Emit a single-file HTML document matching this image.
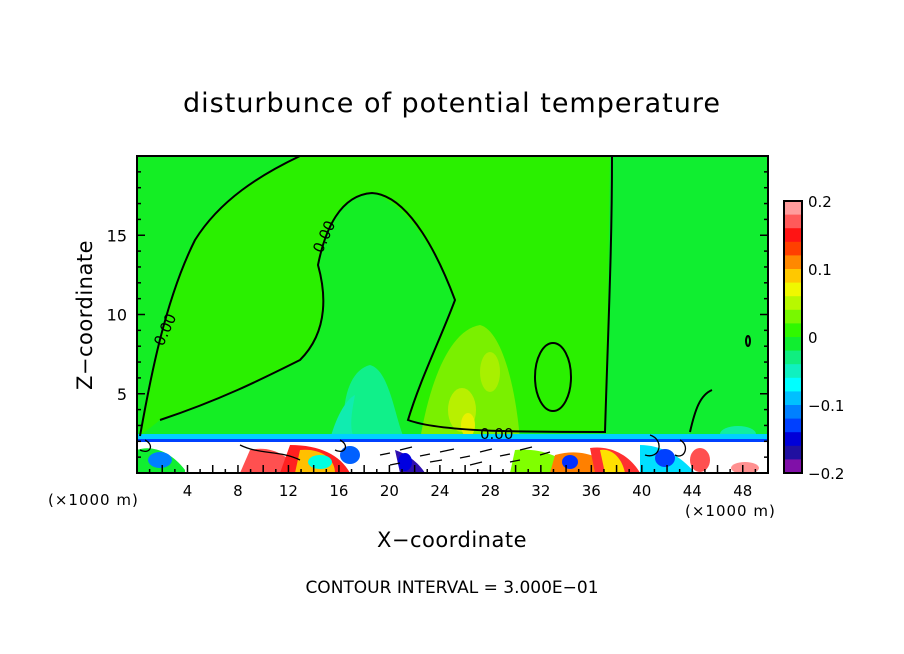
<!DOCTYPE html>
<html><head><meta charset="utf-8"><style>
body{margin:0;background:#fff;}
svg{display:block;font-family:"DejaVu Sans","Liberation Sans",sans-serif;}
</style></head><body>
<svg width="904" height="654" viewBox="0 0 904 654">
<defs><clipPath id="pc"><rect x="137" y="156" width="631" height="317"/></clipPath></defs>
<text x="452" y="112" text-anchor="middle" font-size="27" letter-spacing="1">disturbunce of potential temperature</text>
<g clip-path="url(#pc)">
<rect x="137" y="156" width="631" height="317" fill="#14ee24"/>
<path d="M140,436 C150,380 165,300 195,240 C220,200 260,175 300,156 L612,156 C612,250 608,330 605,432 L500,432 L408,420 C420,380 440,340 455,300 C440,260 410,205 372,193 C340,195 325,230 318,265 C325,290 330,330 300,360 C260,380 220,400 160,420 Z" fill="#2af000"/>
<path d="M610,156 L768,156 L768,440 L606,436 Z" fill="#10ee30"/>
<path d="M345,440 C340,400 350,370 370,365 C390,370 395,420 405,440 Z" fill="#10f08a"/>
<path d="M330,440 C335,420 345,400 355,395 C350,420 350,430 355,440Z" fill="#10ecb0"/>
<path d="M420,440 C430,380 450,330 480,325 C500,330 515,380 520,440 Z" fill="#7af000"/>
<ellipse cx="462" cy="410" rx="14" ry="22" fill="#b8f000"/>
<ellipse cx="490" cy="372" rx="10" ry="20" fill="#a8f000"/>
<ellipse cx="468" cy="425" rx="7" ry="12" fill="#e8f000"/>
<ellipse cx="738" cy="434" rx="18" ry="8" fill="#10eea0"/>
<rect x="137" y="434" width="631" height="6" fill="#00d0ff"/>
<rect x="137" y="439" width="631" height="3" fill="#0040ff"/>
<rect x="137" y="442" width="631" height="31" fill="#ffffff"/>
<path d="M137,450 C150,445 170,450 185,470 L185,473 L137,473Z" fill="#10ee30"/>
<ellipse cx="160" cy="460" rx="12" ry="8" fill="#0080ff"/>
<path d="M250,450 C270,445 290,455 300,473 L240,473Z" fill="#ff5050"/>
<path d="M290,445 C320,445 340,455 350,473 L280,473Z" fill="#ff2020"/>
<path d="M300,450 C320,448 335,458 335,473 L295,473Z" fill="#ffc000"/>
<ellipse cx="320" cy="462" rx="12" ry="7" fill="#00ffe0"/>
<ellipse cx="350" cy="455" rx="10" ry="9" fill="#0060ff"/>
<path d="M395,450 C410,455 420,465 425,473 L400,473Z" fill="#3010b0"/>
<ellipse cx="405" cy="462" rx="7" ry="9" fill="#0000e0"/>
<path d="M515,450 C540,448 560,455 580,473 L510,473Z" fill="#80ff00"/>
<path d="M555,455 C580,448 600,455 620,473 L550,473Z" fill="#ff8000"/>
<ellipse cx="570" cy="462" rx="8" ry="7" fill="#0030ff"/>
<path d="M590,448 C610,445 630,455 640,473 L595,473Z" fill="#ff3030"/>
<path d="M600,450 C612,448 622,458 625,473 L605,473Z" fill="#ffe000"/>
<path d="M640,445 C660,445 680,455 695,473 L640,473Z" fill="#00e0ff"/>
<ellipse cx="665" cy="458" rx="10" ry="9" fill="#0040ff"/>
<ellipse cx="700" cy="460" rx="10" ry="12" fill="#ff5050"/>
<ellipse cx="745" cy="468" rx="14" ry="6" fill="#ff9090"/>
<g fill="none" stroke="#000" stroke-width="2">
<path d="M140,436 C150,380 165,300 195,240 C220,200 260,175 300,156"/>
<path d="M160,420 C220,400 260,380 300,360 C330,330 325,290 318,265 C325,230 340,195 372,193 C410,195 440,260 455,300 C440,340 420,380 408,420 C440,432 520,432 605,432 C608,330 612,250 612,156"/>
<ellipse cx="553" cy="377" rx="18" ry="34"/>
<path d="M690,432 C695,410 700,395 712,390"/>
<ellipse cx="748" cy="341" rx="2" ry="5"/>
</g>
<g fill="none" stroke="#000" stroke-width="1.3">
<path d="M380,455 l10,-2 M400,450 l12,-3 M420,456 l10,-2 M440,452 l14,-3 M460,458 l10,-2 M480,452 l12,-3 M500,456 l10,-2 M520,450 l12,-3 M390,465 l10,-2 M430,462 l12,-2 M470,465 l12,-3 M510,462 l10,-2 M540,455 l10,-3"/>
<path d="M145,440 c10,5 5,15 -5,10 M650,435 c15,5 10,25 -5,20 M680,440 c10,5 5,20 -5,15 M340,440 c10,5 5,15 -5,10 M240,445 c20,10 40,5 60,15"/>
</g>
</g>
<text x="0" y="0" font-size="15" transform="translate(163,347) rotate(-66)">0.00</text>
<text x="0" y="0" font-size="15" transform="translate(322,254) rotate(-66)">0.00</text>
<text x="480" y="439" font-size="15">0.00</text>
<rect x="137" y="156" width="631" height="317" fill="none" stroke="#000" stroke-width="2"/>
<g id="xt"></g>
<g id="yt"></g>
<g id="cb"></g>
<text x="48" y="505" font-size="15" letter-spacing="1">(×1000 m)</text>
<text x="685" y="516" font-size="15" letter-spacing="1">(×1000 m)</text>
<text x="452" y="547" text-anchor="middle" font-size="21" letter-spacing="0.5">X−coordinate</text>
<text x="0" y="0" font-size="21" letter-spacing="0.5" text-anchor="middle" transform="translate(92,315) rotate(-90)">Z−coordinate</text>
<text x="452" y="593" text-anchor="middle" font-size="17">CONTOUR INTERVAL = 3.000E−01</text>
</svg>
<script>
const xTicks=[4,8,12,16,20,24,28,32,36,40,44,48];
const yTicks=[5,10,15];
const cbColors=["#ff9c9c","#ff5a5a","#ff1414","#ff4000","#ff8800","#ffc800","#f0f800","#b8f800","#78f800","#30f800","#10ee30","#10ee80","#10f0c0","#00ffff","#00c0ff","#0080ff","#0040ff","#0000d8","#2010a0","#8010a8"];
const cbLabels=["0.2","0.1","0","−0.1","−0.2"];
const cbLabelVals=[0.2,0.1,0,-0.1,-0.2];
const NS="http://www.w3.org/2000/svg";
const X=v=>137+v*631/50, Y=v=>473-v*317/20;
function mk(t,a,p){const e=document.createElementNS(NS,t);for(const k in a)e.setAttribute(k,a[k]);p.appendChild(e);return e;}
const xt=document.getElementById('xt');
for(let v=1;v<50;v++){const l=mk('line',{x1:X(v),x2:X(v),y1:473,y2:v%2?469:465,stroke:'#000','stroke-width':1.5},xt);

}
xTicks.forEach(v=>{const t=mk('text',{x:X(v),y:496,'text-anchor':'middle','font-size':15},xt);t.textContent=v;

});
const yt=document.getElementById('yt');
for(let v=1;v<20;v++){const l=mk('line',{x1:137,x2:v%5?141:145,y1:Y(v),y2:Y(v),stroke:'#000','stroke-width':1.5},yt);


const r=mk('line',{x1:768,x2:v%5?764:760,y1:Y(v),y2:Y(v),stroke:'#000','stroke-width':1.5},yt);

}
yTicks.forEach(v=>{const t=mk('text',{x:127,y:Y(v)+6,'text-anchor':'end','font-size':16},yt);t.textContent=v;

});
const cb=document.getElementById('cb');
const cbTop=201,cbBot=473,h=(cbBot-cbTop)/cbColors.length;
cbColors.forEach((c,i)=>{const r=mk('rect',{x:784,y:cbTop+i*h,width:18,height:h+0.5,fill:c},cb);

});
mk('rect',{x:784,y:cbTop,width:18,height:cbBot-cbTop,fill:'none',stroke:'#000','stroke-width':2},cb);
cbLabels.forEach((s,i)=>{const y=cbTop+(0.2-cbLabelVals[i])/0.4*(cbBot-cbTop);
const t=mk('text',{x:808,y:y+6,'font-size':15},cb);t.textContent=s;

});
</script>
</body></html>
